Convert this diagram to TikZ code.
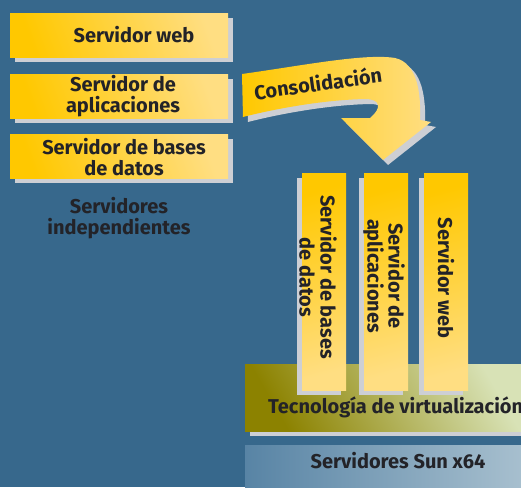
\documentclass[tikz,border=0pt]{standalone}
\usepackage{fontspec}
\setmainfont{Fira Sans}
\usetikzlibrary{shadows}
\definecolor{bgblue}{RGB}{55,104,140}
\definecolor{ystrong}{RGB}{255,200,0}
\definecolor{ylight}{RGB}{255,222,130}
\definecolor{shadowgray}{RGB}{205,207,212}
\definecolor{textdark}{RGB}{35,35,40}
\definecolor{olive}{RGB}{140,130,0}
\definecolor{pale}{RGB}{216,226,182}
\definecolor{steelL}{RGB}{88,132,165}
\definecolor{steelR}{RGB}{168,192,207}
\begin{document}
\begin{tikzpicture}[x=1pt,y=-1pt,
  txt/.style={font=\bfseries\fontsize{20}{21}\selectfont, text=textdark, align=center, inner sep=0pt},
  hbox/.style={minimum width=218pt, minimum height=44pt, inner sep=0pt, anchor=north west,
     top color=ylight, bottom color=ystrong, shading angle=-70,
     drop shadow={shadow xshift=5pt, shadow yshift=-5pt, fill=shadowgray, opacity=1}},
  vbox/.style={minimum width=44pt, minimum height=217pt, inner sep=0pt, anchor=north west,
     top color=ystrong, bottom color=ylight, shading angle=15,
     drop shadow={shadow xshift=-5pt, shadow yshift=-5pt, fill=shadowgray, opacity=1}}]
\useasboundingbox (0,0) rectangle (521,487);
\fill[bgblue] (0,0) rectangle (521,487);

% left boxes
\node[hbox] (b1) at (10,13) {};
\node[hbox] (b2) at (10,74) {};
\node[hbox] (b3) at (10,134) {};
\node[txt, anchor=base] (t1) at (134,42) {Servidor web};
\node[txt] (t2) at (123,96) {Servidor de\\aplicaciones};
\node[txt] (t3) at (124,157) {Servidor de bases\\de datos};
\node[txt] (t4) at (119,218) {Servidores\\independientes};

% arrow
\begin{scope}[shift={(5,5)}]
\fill[shadowgray] (242,74) .. controls (300,66) and (365,53) .. (395,58)
  .. controls (418,63) and (421,95) .. (420,120) -- (431,122) -- (383,160) -- (341,118) -- (370,118)
  .. controls (382,108) and (381,99) .. (365,99)
  .. controls (320,100) and (270,110) .. (243,117) -- cycle;
\end{scope}
\shade[left color=ystrong, right color=ylight] (242,74) .. controls (300,66) and (365,53) .. (395,58)
  .. controls (418,63) and (421,95) .. (420,120) -- (431,122) -- (383,160) -- (341,118) -- (370,118)
  .. controls (382,108) and (381,99) .. (365,99)
  .. controls (320,100) and (270,110) .. (243,117) -- cycle;
\node[txt, rotate=8] (cons) at (318,83) {Consolidación};

% virtualization band
\fill[shadowgray] (250,369) rectangle (530,436);
\shade[top color=pale, bottom color=olive, shading angle=-60] (245,364) rectangle (525,431);
\node[txt, anchor=base west] (virt) at (268,413) {Tecnología de virtualización};

% sun band
\shade[left color=steelL, right color=steelR] (245,445) rectangle (525,490);
\node[txt, anchor=base] (sun) at (398,468) {Servidores Sun x64};

% vertical boxes
\node[vbox] (v1) at (302,173) {};
\node[vbox] (v2) at (364,173) {};
\node[vbox] (v3) at (424,173) {};
\node[txt, rotate=-90] (vt1) at (318,277) {Servidor de bases\\de datos};
\node[txt, rotate=-90] (vt2) at (384,276) {Servidor de\\aplicaciones};
\node[txt, rotate=-90] (vt3) at (446,278) {Servidor web};
\end{tikzpicture}
\end{document}
